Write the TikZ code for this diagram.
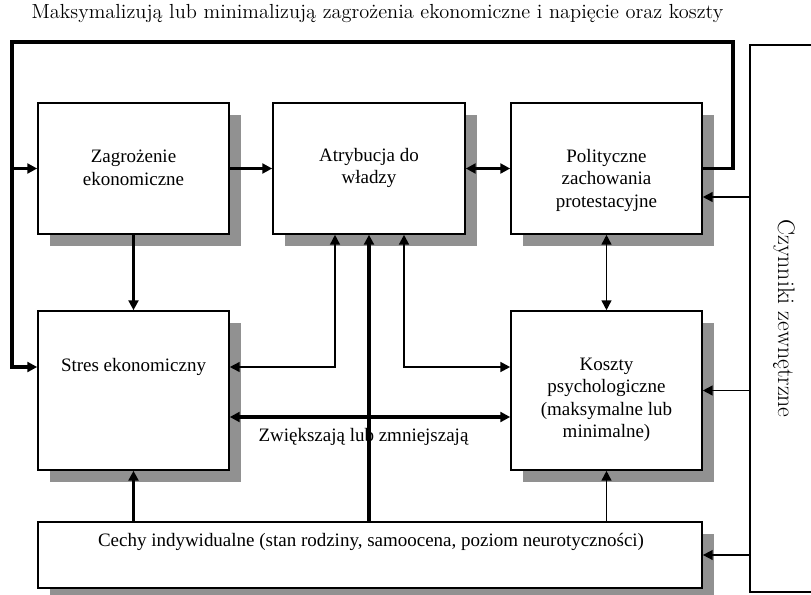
\documentclass[tikz,border=0pt]{standalone}
\usepackage{fontspec}
\newfontfamily\boxfont{Liberation Serif}
\usetikzlibrary{arrows.meta, positioning, calc, shadows}
\definecolor{shadowGray}{RGB}{145,145,145}
\tikzset{
    box/.style={draw=black, line width=1.1pt, fill=white,
        drop shadow={shadow xshift=0.3cm, shadow yshift=-0.3cm, fill=shadowGray, opacity=1}},
    boxtext/.style={align=center, font=\boxfont\fontsize{13.5}{16}\selectfont, inner sep=0pt},
    thickline/.style={line width=2.2pt},
    medline/.style={line width=1.5pt},
    thinline/.style={line width=1.1pt},
    onearrow/.style={-{Triangle[length=7pt,width=7pt]}},
    twoarrow/.style={{Triangle[length=7pt,width=7pt]}-{Triangle[length=7pt,width=7pt]}}
}

\begin{document}
\begin{tikzpicture}[x=0.025cm, y=-0.025cm]
    \useasboundingbox (0,0) rectangle (811,594);

    % Title of the feedback loop
    \node[font=\fontsize{14.5}{17}\selectfont] (tytul) at (377.5,14)
        {Maksymalizują lub minimalizują zagrożenia ekonomiczne i napięcie oraz koszty};

    % The six boxes with shadows
    \node[box, minimum width=4.775cm, minimum height=3.275cm] (zagrozenie) at (133.5,168.5) {};
    \node[box, minimum width=4.8cm, minimum height=3.275cm] (atrybucja) at (369,168.5) {};
    \node[box, minimum width=4.775cm, minimum height=3.275cm] (polityczne) at (606.5,168.5) {};
    \node[box, minimum width=4.775cm, minimum height=3.975cm] (stres) at (133.5,390.5) {};
    \node[box, minimum width=4.775cm, minimum height=3.975cm] (koszty) at (606.5,390.5) {};
    \node[box, minimum width=16.6cm, minimum height=1.65cm] (cechy) at (370,555) {};

    % External factors on the right
    \node[draw, line width=1.1pt, rotate=-90, minimum width=13.675cm, minimum height=1.7cm,
        font=\fontsize{17}{20}\selectfont] (czynniki) at (784,318.5) {Czynniki zewnętrzne};

    % Texts in the boxes
    \node[boxtext] (zagrozenieTxt) at (133.5,168) {Zagrożenie\\ekonomiczne};
    \node[boxtext] (atrybucjaTxt) at (369,168) {Atrybucja do\\władzy};
    \node[boxtext] (polityczneTxt) at (606.5,180) {Polityczne\\zachowania\\protestacyjne};
    \node[boxtext] (stresTxt) at (133.5,367) {Stres ekonomiczny};
    \node[boxtext] (kosztyTxt) at (606.5,400) {Koszty\\psychologiczne\\(maksymalne lub\\minimalne)};
    \node[boxtext] (cechyTxt) at (371,542) {Cechy indywidualne (stan rodziny, samoocena, poziom neurotyczności)};
    \node[boxtext] (zwTxt) at (363.5,437) {Zwiększają lub zmniejszają};

    % Feedback loop over the top
    \coordinate (loopR) at (733,42);
    \coordinate (loopL) at (12,42);
    \draw[thickline, onearrow] (polityczne.east) -| (loopR) -- (loopL) |- (stres.west |- stresTxt);
    \draw[thickline, onearrow] (loopL |- zagrozenie) -- (zagrozenie.west);

    % Connectors between the boxes
    \draw[thickline, onearrow] (zagrozenie) -- (atrybucja);
    \draw[thickline, twoarrow] (atrybucja) -- (polityczne);
    \draw[thickline, onearrow] (zagrozenie) -- (stres);
    \draw[thinline, twoarrow] (polityczne) -- (koszty);
    \coordinate (atrL) at ($(atrybucja.south)+(-34,0)$);
    \coordinate (atrR) at ($(atrybucja.south)+(35,0)$);
    \draw[thinline, twoarrow] (atrL) |- (stres.east |- stresTxt);
    \draw[medline, twoarrow] (atrR) |- (koszty.west |- stresTxt);
    \draw[thickline, twoarrow] (stres.east |- 0,417) -- (koszty.west |- 0,417);

    % From the individual traits
    \draw[thickline, onearrow] (stres.south |- cechy.north) -- (stres.south);
    \draw[thickline, onearrow] (atrybucja.south |- cechy.north) -- (atrybucja.south);
    \draw[thinline, onearrow] (koszty.south |- cechy.north) -- (koszty.south);

    % From the external factors
    \draw[thinline, onearrow] (czynniki.south |- 0,197) -- (polityczne.east |- 0,197);
    \draw[thinline, onearrow] (czynniki.south |- koszty.east) -- (koszty.east);
    \draw[thinline, onearrow] (czynniki.south |- cechy.east) -- (cechy.east);
\end{tikzpicture}
\end{document}
